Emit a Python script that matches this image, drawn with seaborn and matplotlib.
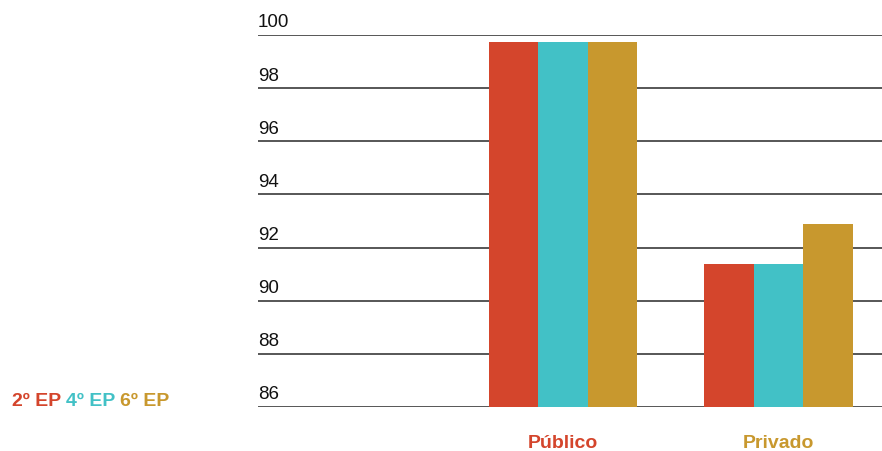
import pandas as pd
import numpy as np
import matplotlib
matplotlib.use("Agg")
import matplotlib.pyplot as plt
import seaborn as sns

sectors = ["Público", "Privado"]
grades = ["2º EP", "4º EP", "6º EP"]
publico = [99.75, 99.75, 99.75]
privado = [91.4, 91.4, 92.9]
yticks = [86, 88, 90, 92, 94, 96, 98, 100]

colors = ["#D4452C", "#42C1C6", "#C8982E"]
sector_colors = ["#D4452C", "#C8982E"]

df = pd.DataFrame({
    "sector": np.repeat(sectors, len(grades)),
    "grade": grades * len(sectors),
    "value": publico + privado,
})

sns.set_theme(style="white")
plt.rcParams["font.family"] = ["Liberation Sans", "DejaVu Sans"]

fig = plt.figure(figsize=(8.82, 4.52), dpi=100)
ax = fig.add_axes([258 / 882, 1 - 408 / 452, 1 - 258 / 882, (408 - 36) / 452])

# gridlines under the bars
for v in yticks:
    ax.axhline(v, color="#3a3a3a", lw=1.2, zorder=0)
    ax.text(0, v + 0.17, str(v), transform=ax.get_yaxis_transform(),
            ha="left", va="bottom", fontsize=13.5, color="#111111")

sns.barplot(data=df, x="sector", y="value", hue="grade", order=sectors,
            hue_order=grades, palette=colors, width=0.687, saturation=1,
            ax=ax, zorder=2, legend=False)
for p in ax.patches:
    p.set_edgecolor("none")
    p.set_linewidth(0)

ax.set_ylim(86, 100)
ax.set_xlim(-1.415, 1.48)
ax.set_yticks([])
ax.set_xlabel("")
ax.set_ylabel("")
ax.tick_params(axis="x", length=0, pad=19.5)
ax.set_xticks(range(len(sectors)))
ax.set_xticklabels(sectors, fontsize=14, fontweight="bold")
for lbl, c in zip(ax.get_xticklabels(), sector_colors):
    lbl.set_color(c)
for s in ax.spines.values():
    s.set_visible(False)

# legend as coloured text row
fig.canvas.draw()
renderer = fig.canvas.get_renderer()
x = 12 / 882
for g, c in zip(grades, colors):
    t = fig.text(x, 1 - 402 / 452, g, color=c, fontsize=14, fontweight="bold",
                 ha="left", va="center")
    bb = t.get_window_extent(renderer)
    x += (bb.width + 5) / 882

fig.savefig("out.png", dpi=100)
